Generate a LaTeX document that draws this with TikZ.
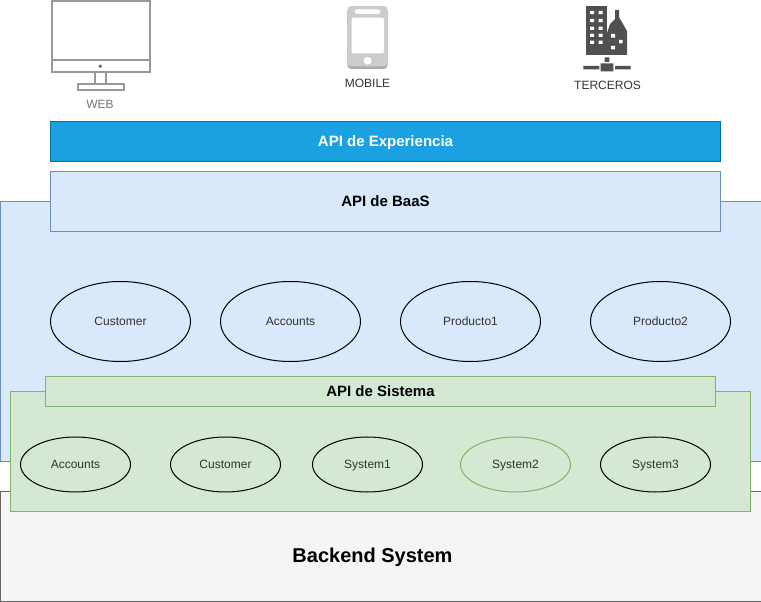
\documentclass[tikz,border=0pt]{standalone}
\usepackage{fontspec}
\setmainfont{Liberation Sans}
\usetikzlibrary{shapes.geometric}
\definecolor{bluefill}{HTML}{DAE8FC}
\definecolor{blueline}{HTML}{6C8EBF}
\definecolor{greenfill}{HTML}{D5E8D4}
\definecolor{greenline}{HTML}{82B366}
\definecolor{greyfill}{HTML}{F5F5F5}
\definecolor{greyline}{HTML}{666666}
\definecolor{cyanfill}{HTML}{1BA1E2}
\definecolor{cyanline}{HTML}{006EAF}
\definecolor{monitorgrey}{HTML}{999999}
\definecolor{phonegrey}{HTML}{CCCCCC}
\definecolor{phonedark}{HTML}{ABABAB}
\definecolor{cityfill}{HTML}{505050}
\definecolor{webtext}{HTML}{787878}
\definecolor{labeltext}{HTML}{333333}
\tikzset{
  px/.style={x=0.75pt,y=-0.75pt},
  box/.style={draw,rectangle,inner sep=0pt,line width=0.75pt},
  bluebox/.style={box,draw=blueline,fill=bluefill},
  greenbox/.style={box,draw=greenline,fill=greenfill},
  oval/.style={draw=black,ellipse,inner sep=0pt,line width=0.75pt,font=\fontsize{9}{11}\selectfont,text=labeltext,text height=6.5pt,text depth=0pt},
  bigoval/.style={oval,minimum width=105pt,minimum height=60pt},
  smalloval/.style={oval,minimum width=82.5pt,minimum height=41.25pt},
  title/.style={font=\fontsize{11.25}{14}\selectfont\bfseries,text height=8pt,text depth=0pt},
  iconlabel/.style={inner sep=0pt,font=\fontsize{9}{11}\selectfont},
}
\begin{document}
\begin{tikzpicture}[px]
\useasboundingbox (0,0) rectangle (761,602);
% layers
\node[bluebox,minimum width=570.75pt,minimum height=195pt] (baasarea) at (380.5,331.5) {};
\node[bluebox,title,minimum width=502.5pt,minimum height=45pt] (baas) at (385.5,201.5) {API de BaaS};
\node[box,draw=cyanline,fill=cyanfill,text=white,title,minimum width=502.5pt,minimum height=30pt] (exp) at (385.5,141.5) {API de Experiencia};
\node[box,draw=greyline,fill=greyfill,minimum width=570.75pt,minimum height=82.5pt] (backend) at (380.5,546.5) {};
\node[inner sep=0pt,font=\fontsize{15}{18}\selectfont\bfseries,text height=10.7pt,text depth=0pt] (backendlabel) at (372.5,555) {Backend System};
\node[greenbox,minimum width=555pt,minimum height=90pt] (sysarea) at (380.5,451.5) {};
\node[greenbox,title,minimum width=502.5pt,minimum height=22.5pt] (sys) at (380.5,391.5) {API de Sistema};
% upper ovals
\node[bigoval] (o1) at (120.5,321.5) {Customer};
\node[bigoval] (o2) at (290.5,321.5) {Accounts};
\node[bigoval] (o3) at (470.5,321.5) {Producto1};
\node[bigoval] (o4) at (660.5,321.5) {Producto2};
% lower ovals
\node[smalloval] (s1) at (75.5,464.5) {Accounts};
\node[smalloval] (s2) at (225.5,464.5) {Customer};
\node[smalloval] (s3) at (367.5,464.5) {System1};
\node[smalloval,draw=greenline] (s4) at (515.5,464.5) {System2};
\node[smalloval] (s5) at (655.5,464.5) {System3};
% web icon
\begin{scope}[draw=monitorgrey,line width=1.5pt]
  \draw (51.5,1.5) rectangle (149.5,72);
  \draw (51.5,60.5) -- (149.5,60.5);
  \draw (94.5,72) -- (94.5,84.5) (105.5,72) -- (105.5,84.5);
  \draw (77.5,84.5) rectangle (124,90.5);
\end{scope}
\fill[greyline] (100.3,66.3) circle (1.9);
\node[iconlabel,text=webtext] (web) at (100,104) {WEB};
% mobile icon
\fill[phonedark,rounded corners=3pt] (347.3,8) rectangle (387.7,69);
\fill[phonegrey,rounded corners=3pt] (347.3,6) rectangle (387.7,66.5);
\fill[white,rounded corners=1.5pt] (355,9.5) rectangle (380,14);
\fill[white,rounded corners=1pt] (351.7,17.7) rectangle (384,53.3);
\fill[white] (367.7,60.7) circle (4);
\node[iconlabel,text=labeltext] (mobile) at (367.5,83) {MOBILE};
% terceros icon
\fill[cityfill] (585.7,5.7) rectangle (607.3,55);
\fill[cityfill] (607,55) -- (607,33) -- (610,24) -- (615,19) -- (615,10) -- (619,10) -- (619,17) -- (623,24) -- (627,31) -- (627,55) -- cycle;
\fill[white]
  (590,11) rectangle +(4,3.2) (598.5,11) rectangle +(4,3.2)
  (590,19) rectangle +(4,3.2) (598.5,19) rectangle +(4,3.2)
  (590,26.7) rectangle +(4,3.2) (598.5,26.7) rectangle +(4,3.2)
  (590,33.7) rectangle +(4,3.2) (598.5,33.7) rectangle +(4,3.2)
  (590,40.7) rectangle +(4,3.2) (598.5,40.7) rectangle +(4,3.2)
  (611,34) rectangle +(4,3.6)
  (619,40) rectangle +(3.7,3.4)
  (611,46) rectangle +(4,3.4);
\fill[cityfill]
  (604.7,57.3) rectangle (609.3,62)
  (600.7,63.3) rectangle (613.3,71.3)
  (583.3,66) rectangle (599.3,69.3)
  (615,66) rectangle (630.7,69.3);
\node[iconlabel,text=labeltext] (terceros) at (607.5,85) {TERCEROS};
\end{tikzpicture}
\end{document}
